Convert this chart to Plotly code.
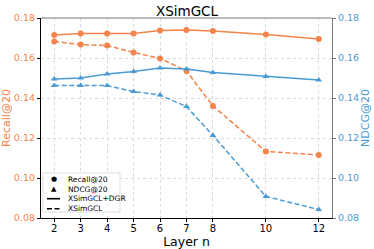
import plotly.graph_objects as go

layers = [2, 3, 4, 5, 6, 7, 8, 10, 12]
recall_dgr = [0.1715, 0.1723, 0.1723, 0.1723, 0.1737, 0.1740, 0.1735, 0.1717, 0.1695]
recall_base = [0.1683, 0.1667, 0.1662, 0.1628, 0.1598, 0.1535, 0.1360, 0.1133, 0.1115]
ndcg_dgr = [0.1495, 0.1500, 0.1520, 0.1533, 0.1550, 0.1545, 0.1527, 0.1507, 0.1490]
ndcg_base = [0.1462, 0.1462, 0.1462, 0.1432, 0.1415, 0.1357, 0.1213, 0.0908, 0.0842]
y_ticks = [0.08, 0.10, 0.12, 0.14, 0.16, 0.18]
y_tick_text = ["0.08", "0.10", "0.12", "0.14", "0.16", "0.18"]
legend_labels = ["Recall@20", "NDCG@20", "XSimGCL+DGR", "XSimGCL"]

ORANGE = "#F4844C"
BLUE = "#4A9BD4"
FONT = "DejaVu Sans"
DASH = "5px,2.5px"

W, H = 374, 249
L, R, T, B = 41, 42, 18, 31
PW, PH = W - L - R, H - T - B

def px(x):
    return (x - L) / PW

def py(y):
    return (H - B - y) / PH

fig = go.Figure()
fig.add_trace(go.Scatter(x=layers, y=recall_dgr, mode="lines+markers",
                         line=dict(color=ORANGE, width=1.5), marker=dict(symbol="circle", size=6, color=ORANGE),
                         showlegend=False))
fig.add_trace(go.Scatter(x=layers, y=recall_base, mode="lines+markers",
                         line=dict(color=ORANGE, width=1.5, dash=DASH), marker=dict(symbol="circle", size=6, color=ORANGE),
                         showlegend=False))
fig.add_trace(go.Scatter(x=layers, y=ndcg_dgr, mode="lines+markers", yaxis="y2",
                         line=dict(color=BLUE, width=1.5), marker=dict(symbol="triangle-up", size=6, color=BLUE),
                         showlegend=False))
fig.add_trace(go.Scatter(x=layers, y=ndcg_base, mode="lines+markers", yaxis="y2",
                         line=dict(color=BLUE, width=1.5, dash=DASH), marker=dict(symbol="triangle-up", size=6, color=BLUE),
                         showlegend=False))

# manual compact legend (matplotlib-style)
shapes = [
    dict(type="line", xref="paper", yref="paper", x0=0, x1=1, y0=1, y1=1,
         line=dict(color="#777777", width=1.2)),
    dict(type="rect", xref="paper", yref="paper", x0=px(43), x1=px(120), y0=py(212), y1=py(173),
         line=dict(color="#dddddd", width=1), fillcolor="rgba(255,255,255,0.85)", layer="above"),
    dict(type="line", xref="paper", yref="paper", x0=px(47), x1=px(60), y0=py(198.7), y1=py(198.7),
         line=dict(color="black", width=1.6), layer="above"),
    dict(type="line", xref="paper", yref="paper", x0=px(47), x1=px(60), y0=py(208.7), y1=py(208.7),
         line=dict(color="black", width=1.6, dash="5px,2.5px"), layer="above"),
]
row_y = [179.3, 189.0, 198.7, 208.7]
annotations = []
glyphs = ["●", "▲"]
for i, g in enumerate(glyphs):
    annotations.append(dict(xref="paper", yref="paper", x=px(53.5), y=py(row_y[i]), text=g,
                            showarrow=False, xanchor="center", yanchor="middle",
                            font=dict(size=7, color="black", family=FONT)))
for i, lab in enumerate(legend_labels):
    annotations.append(dict(xref="paper", yref="paper", x=px(65.5), y=py(row_y[i]), text=lab,
                            showarrow=False, xanchor="left", yanchor="middle",
                            font=dict(size=7.5, color="black", family=FONT)))

fig.update_layout(
    width=W, height=H,
    margin=dict(l=L, r=R, t=T, b=B),
    paper_bgcolor="white", plot_bgcolor="white",
    font=dict(family=FONT, color="black"),
    showlegend=False,
    title=dict(text="XSimGCL", x=0.5, xanchor="center", y=0.955, yanchor="middle",
               font=dict(size=13.5, family=FONT, color="black")),
    xaxis=dict(range=[1.5, 12.5], tickvals=layers, ticktext=[str(v) for v in layers],
               showgrid=True, gridcolor="#d9d9d9", griddash="dot", gridwidth=1,
               showline=True, linecolor="black", linewidth=1.2,
               ticks="outside", ticklen=3, tickcolor="black", ticklabelstandoff=-2,
               tickfont=dict(size=10, color="black"), automargin=False,
               title=dict(text="Layer n", font=dict(size=12.5, color="black"), standoff=0),
               zeroline=False),
    yaxis=dict(range=[0.08, 0.18], tickvals=y_ticks, ticktext=y_tick_text,
               showgrid=True, gridcolor="#d9d9d9", griddash="dot", gridwidth=1,
               showline=True, linecolor="black", linewidth=1.2,
               ticks="outside", ticklen=3, tickcolor="black",
               tickfont=dict(size=9.5, color=ORANGE), automargin=False,
               title=dict(text="Recall@20", font=dict(size=11, color=ORANGE), standoff=2),
               zeroline=False),
    yaxis2=dict(range=[0.08, 0.18], tickvals=y_ticks, ticktext=y_tick_text,
                overlaying="y", side="right", showgrid=False,
                showline=True, linecolor="#777777", linewidth=1.2,
                ticks="outside", ticklen=3, tickcolor="#777777",
                tickfont=dict(size=9.5, color=BLUE), automargin=False,
                title=dict(text="NDCG@20", font=dict(size=11, color=BLUE), standoff=2),
                zeroline=False),
    shapes=shapes,
    annotations=annotations,
)

fig.write_html("out.html", config={"displayModeBar": False},
               post_script="document.body.style.margin='0';document.body.style.padding='0';")
